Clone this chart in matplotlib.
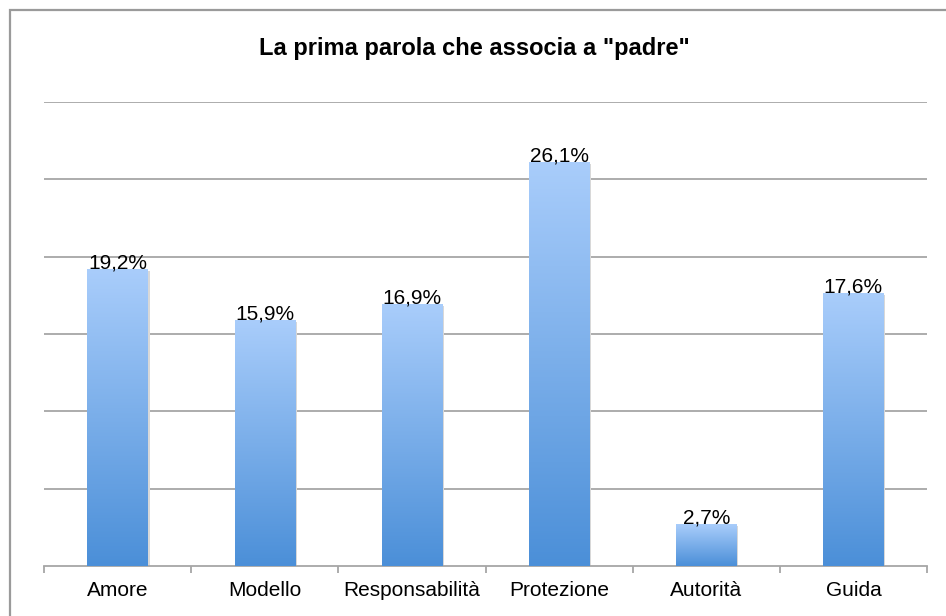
import numpy as np
import matplotlib.pyplot as plt
from matplotlib.colors import LinearSegmentedColormap
from matplotlib.patches import Rectangle

categorie = ['Amore', 'Modello', 'Responsabilità', 'Protezione', 'Autorità', 'Guida']
valori = [19.2, 15.9, 16.9, 26.1, 2.7, 17.6]
etichette = ['19,2%', '15,9%', '16,9%', '26,1%', '2,7%', '17,6%']

plt.rcParams['font.family'] = ['Liberation Sans', 'DejaVu Sans']

fig = plt.figure(figsize=(9.46, 6.16), dpi=100)
ax = fig.add_axes([44 / 946, 50 / 616, 883 / 946, 464 / 616])

# cornice grigia attorno al grafico (tagliata a destra e in basso)
fig.patches.append(Rectangle((9.5 / 946, -0.1), 1.2, 1.1 - 9.5 / 616,
                             transform=fig.transFigure, fill=False,
                             edgecolor='#9a9a9a', lw=1.6, zorder=0))

cmap = LinearSegmentedColormap.from_list('barre', ['#4b8fd8', '#a9cdfb'])
grad = np.linspace(0, 1, 256).reshape(-1, 1)
larghezza = 0.41

x = np.arange(len(categorie))
for xi, v, lab in zip(x, valori, etichette):
    # leggera ombra
    ax.add_patch(Rectangle((xi - larghezza / 2 + 0.012, 0), larghezza, v - 0.1,
                           facecolor='#d8d8d8', edgecolor='none', zorder=2))
    ax.imshow(grad, cmap=cmap, origin='lower', aspect='auto',
              extent=(xi - larghezza / 2, xi + larghezza / 2, 0, v), zorder=3)
    ax.text(xi, v - 0.2, lab, ha='center', va='bottom', fontsize=15, zorder=4)

ax.set_xlim(-0.5, len(categorie) - 0.5)
ax.set_ylim(0, 30)

for g in np.arange(5, 31, 5):
    ax.axhline(g, color='#a6a6a6', lw=1.3, zorder=1)

for s in ['top', 'right', 'left']:
    ax.spines[s].set_visible(False)
ax.spines['bottom'].set_color('#a6a6a6')
ax.spines['bottom'].set_linewidth(1.3)

ax.set_yticks([])
ax.set_xticks(x)
ax.set_xticklabels(categorie, fontsize=15)
ax.tick_params(axis='x', which='major', length=0, pad=11)
ax.set_xticks(np.arange(-0.5, len(categorie)), minor=True)
ax.tick_params(axis='x', which='minor', length=5, width=1.3, color='#a6a6a6')

fig.text(474 / 946, 1 - 48 / 616, 'La prima parola che associa a "padre"',
         ha='center', va='center', fontsize=17, fontweight='bold')

fig.savefig('out.png', dpi=100)
